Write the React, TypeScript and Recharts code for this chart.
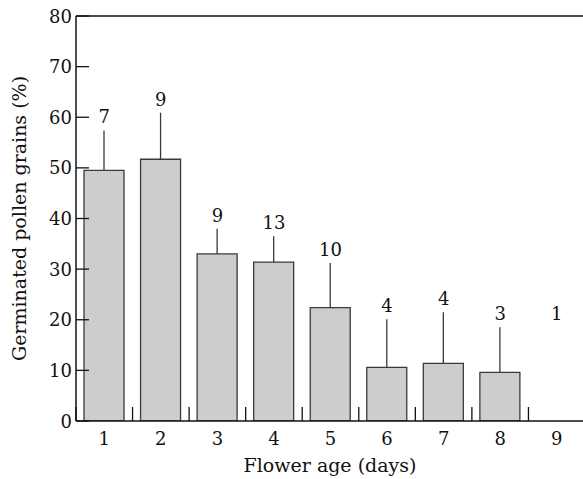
import React from 'react';
import {
  ComposedChart,
  Bar,
  Line,
  XAxis,
  YAxis,
  ErrorBar,
  LabelList,
  ReferenceLine,
} from 'recharts';

const days = ['1', '2', '3', '4', '5', '6', '7', '8', '9'];
const meanGermination = [49.5, 51.7, 33.0, 31.4, 22.4, 10.6, 11.4, 9.6, 0];
const upperError = [7.9, 9.2, 5.0, 5.1, 8.8, 9.5, 10.1, 8.9, 0];
const sampleSize = [7, 9, 9, 13, 10, 4, 4, 3, 1];
const yTicks = [0, 10, 20, 30, 40, 50, 60, 70, 80];

const FONT = '"DejaVu Serif", serif';

const data = (() => {
  const rows: any[] = [];
  days.forEach((d, i) => {
    const top = meanGermination[i] + upperError[i];
    const labelAt = upperError[i] > 0 ? top : rows[i - 1] ? rows[i - 1].labelAt : top;
    rows.push({
      day: d,
      mean: meanGermination[i],
      err: [0, upperError[i]],
      n: sampleSize[i],
      labelAt,
    });
  });
  return rows;
})();

const YTick = (props: any) => {
  const { x, y, payload } = props;
  return (
    <g>
      <line x1={x} y1={y} x2={x + 13} y2={y} stroke="#111" strokeWidth={1.3} />
      <text x={x - 4} y={y + 6.5} textAnchor="end" fontFamily={FONT} fontSize={18} fill="#111">
        {payload.value}
      </text>
    </g>
  );
};

const XTick = (props: any) => {
  const { x, y, payload, width, visibleTicksCount } = props;
  const half = width / (visibleTicksCount || days.length) / 2;
  return (
    <g>
      <line x1={x - half} y1={y} x2={x - half} y2={y - 14} stroke="#111" strokeWidth={1.3} />
      <text x={x} y={y + 24} textAnchor="middle" fontFamily={FONT} fontSize={18} fill="#111">
        {payload.value}
      </text>
    </g>
  );
};

const YTitle = (props: any) => {
  const vb = props.viewBox || { x: 0, y: 16, width: 76, height: 405 };
  const cy = vb.y + vb.height / 2;
  const cx = 26;
  return (
    <text
      x={cx}
      y={cy}
      transform={`rotate(-90, ${cx}, ${cy})`}
      textAnchor="middle"
      fontFamily={FONT}
      fontSize={19}
      fill="#111"
    >
      Germinated pollen grains (%)
    </text>
  );
};

const XTitle = (props: any) => {
  const vb = props.viewBox || { x: 76, y: 421, width: 509, height: 58 };
  return (
    <text
      x={330}
      y={vb.y + 51}
      textAnchor="middle"
      fontFamily={FONT}
      fontSize={19}
      fill="#111"
    >
      Flower age (days)
    </text>
  );
};

export default function App() {
  return (
    <div style={{ position: 'fixed', left: 0, top: 0, width: 583, height: 479, overflow: 'hidden', background: '#fff' }}>
      <ComposedChart
        width={585}
        height={479}
        data={data}
        margin={{ top: 16, right: 0, bottom: 0, left: 0 }}
        barSize={40}
      >
        <XAxis
          dataKey="day"
          height={58}
          tickLine={false}
          tickSize={0}
          tickMargin={0}
          axisLine={{ stroke: '#111', strokeWidth: 1.5 }}
          tick={<XTick />}
          interval={0}
          label={<XTitle />}
        />
        <YAxis
          width={76}
          domain={[0, 80]}
          ticks={yTicks}
          allowDataOverflow
          tickLine={false}
          tickSize={0}
          tickMargin={0}
          axisLine={{ stroke: '#111', strokeWidth: 1.5 }}
          tick={<YTick />}
          interval={0}
          label={<YTitle />}
        />
        <ReferenceLine y={80} stroke="#111" strokeWidth={1.5} />
        <Bar dataKey="mean" fill="#cdcdcd" stroke="#3a3a3a" strokeWidth={1.3} isAnimationActive={false}>
          <ErrorBar dataKey="err" width={0} stroke="#3a3a3a" strokeWidth={1.3} direction="y" isAnimationActive={false} />
        </Bar>
        <Line
          dataKey="labelAt"
          stroke="none"
          dot={false}
          activeDot={false}
          isAnimationActive={false}
        >
          <LabelList
            dataKey="n"
            position="top"
            offset={7}
            fontFamily={FONT}
            fontSize={18}
            fill="#111"
          />
        </Line>
      </ComposedChart>
    </div>
  );
}
